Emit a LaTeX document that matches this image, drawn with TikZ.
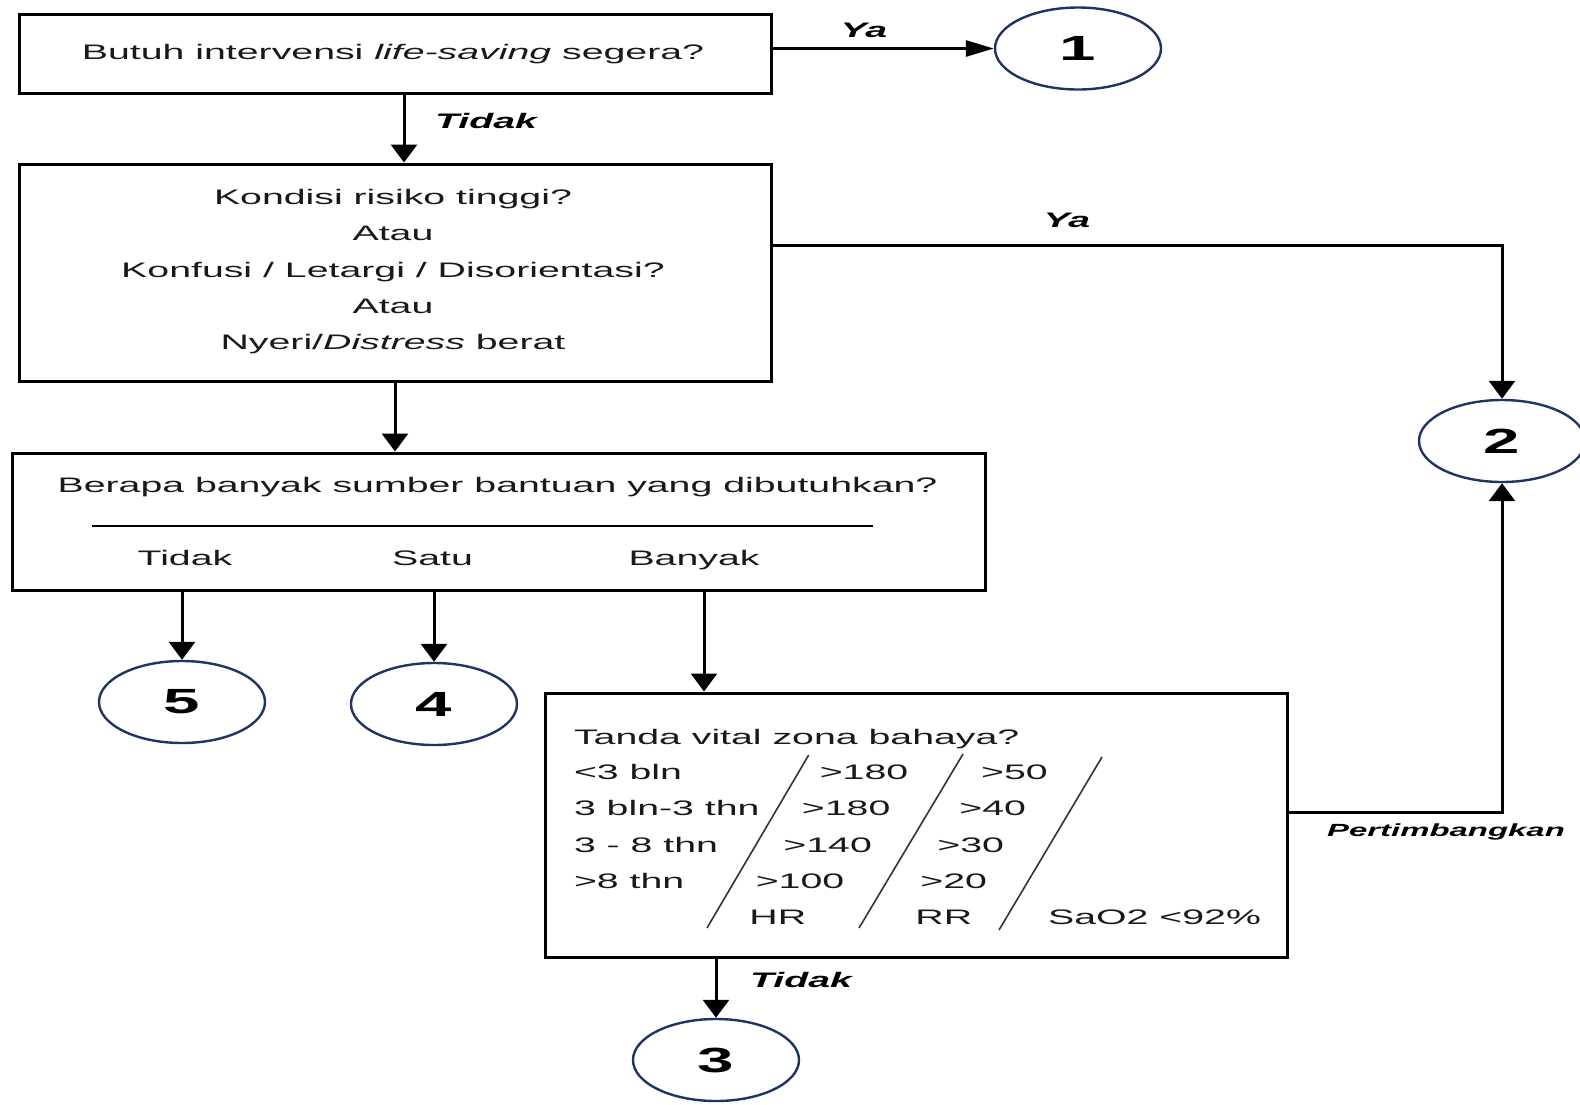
\documentclass[tikz,border=0pt]{standalone}
\usepackage{fontspec}
\setmainfont{Liberation Sans}[FakeStretch=1.87]
\usetikzlibrary{arrows.meta,shapes.geometric}
\definecolor{navy}{HTML}{1F3460}
\begin{document}
\begin{tikzpicture}[x=0.5pt,y=-0.5pt,
 box/.style={draw, line width=1.5pt, rectangle, inner sep=0},
 numc/.style={draw=navy, line width=1.2pt, ellipse, minimum width=83pt, minimum height=41pt, inner sep=0, font=\fontsize{17.5}{20}\selectfont\bfseries},
 txt/.style={inner sep=0, anchor=base, font=\fontsize{10.5}{12}\selectfont, text=black!90},
 ltxt/.style={txt, anchor=base west},
 lbl/.style={inner sep=0, anchor=base, font=\fontsize{10.5}{12}\selectfont\bfseries\itshape},
 varrow/.style={line width=1.5pt, -{Triangle[length=9pt,width=13pt]}},
 harrow/.style={line width=1.5pt, -{Triangle[length=14pt,width=8pt]}},
 slash/.style={line width=0.8pt, black!80},
]
\useasboundingbox (0,0) rectangle (1580,1104);
% boxes
\node[box, minimum width=376pt, minimum height=39.5pt] (b1) at (395,53.5) {};
\node[box, minimum width=376pt, minimum height=108.5pt] (b2) at (395,272.5) {};
\node[box, minimum width=486.5pt, minimum height=68.5pt] (b3) at (498.5,521.5) {};
\node[box, minimum width=371pt, minimum height=132pt] (b4) at (916,825) {};
% circles
\node[numc] (c1) at (1078,48.5) {1};
\node[numc] (c2) at (1502,441) {2};
\node[numc] (c3) at (716,1060) {3};
\node[numc] (c4) at (434,704) {4};
\node[numc] (c5) at (182,702) {5};
% box texts
\node[txt] (t1) at (393,59.5) {Butuh intervensi \textit{life-saving} segera?};
\node[txt] (t2a) at (393,204.8) {Kondisi risiko tinggi?};
\node[txt] (t2b) at (393,240.8) {Atau};
\node[txt] (t2c) at (393,277.5) {Konfusi / Letargi / Disorientasi?};
\node[txt] (t2d) at (393,313.5) {Atau};
\node[txt] (t2e) at (393,349.2) {Nyeri/\textit{Distress} berat};
\node[txt] (t3) at (497.5,492.5) {Berapa banyak sumber bantuan yang dibutuhkan?};
\draw[line width=0.8pt] (92,526) -- (873,526);
\node[txt] (t3a) at (185,565.5) {Tidak};
\node[txt] (t3b) at (432.6,565.5) {Satu};
\node[txt] (t3c) at (694,565.5) {Banyak};
% box 4 texts
\node[ltxt] (t4) at (573.6,744.2) {Tanda vital zona bahaya?};
\node[ltxt] (r1a) at (573.6,779.2) {<3 bln};
\node[ltxt] (r1b) at (819.4,779.2) {>180};
\node[ltxt] (r1c) at (980.8,779.2) {>50};
\node[ltxt] (r2a) at (573.6,815.2) {3 bln-3 thn};
\node[ltxt] (r2b) at (801.5,815.2) {>180};
\node[ltxt] (r2c) at (959,815.2) {>40};
\node[ltxt] (r3a) at (573.6,852.5) {3 - 8 thn};
\node[ltxt] (r3b) at (783,852.5) {>140};
\node[ltxt] (r3c) at (937,852.5) {>30};
\node[ltxt] (r4a) at (573.6,888.5) {>8 thn};
\node[ltxt] (r4b) at (755.4,888.5) {>100};
\node[ltxt] (r4c) at (920,888.5) {>20};
\node[ltxt] (r5b) at (749,924.2) {HR};
\node[ltxt] (r5c) at (915,924.2) {RR};
\node[ltxt] (r5d) at (1047.7,924.2) {SaO2 <92\%};
\draw[slash] (808.7,755) -- (707,928);
\draw[slash] (963,754) -- (859,928);
\draw[slash] (1102,757) -- (999,930);
% connectors
\draw[harrow] (b1.east |- c1.west) -- (c1.west);
\node[lbl] (l1) at (864,37) {Ya};
\coordinate (k1) at (404,0);
\draw[varrow] (b1.south -| k1) -- (b2.north -| k1);
\node[lbl] (l2) at (486,128.5) {Tidak};
\coordinate (k2) at (0,245);
\draw[varrow] (b2.east |- k2) -| (c2.north);
\node[lbl] (l3) at (1067,227.5) {Ya};
\draw[varrow] (b2.south) -- (b2.south |- b3.north);
\draw[varrow] (c5.north |- b3.south) -- (c5.north);
\draw[varrow] (c4.north |- b3.south) -- (c4.north);
\coordinate (k3) at (704,0);
\draw[varrow] (b3.south -| k3) -- (b4.north -| k3);
\draw[varrow] (c3.north |- b4.south) -- (c3.north);
\node[lbl] (l4) at (801,987.5) {Tidak};
\coordinate (k4) at (0,812);
\draw[varrow] (b4.east |- k4) -| (c2.south);
\node[lbl, font=\fontsize{8.8}{10}\selectfont\bfseries\itshape] (l5) at (1446,836) {Pertimbangkan};
\end{tikzpicture}
\end{document}
